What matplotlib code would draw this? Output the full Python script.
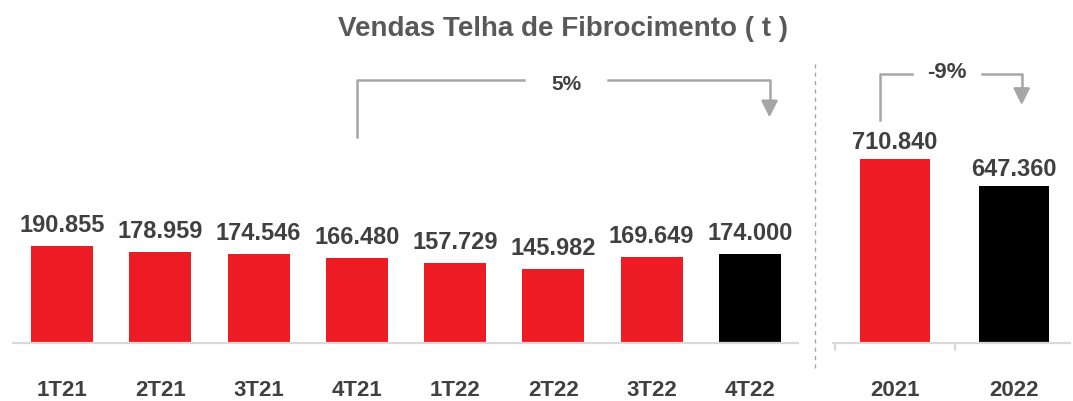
import matplotlib
matplotlib.use("Agg")
import matplotlib.pyplot as plt
from matplotlib.lines import Line2D
from matplotlib.ticker import FixedLocator
import matplotlib.transforms as mtransforms

plt.rcParams['font.family'] = ['Liberation Sans', 'DejaVu Sans']

# data
quarters = ["1T21", "2T21", "3T21", "4T21", "1T22", "2T22", "3T22", "4T22"]
quarter_sales = [190855, 178959, 174546, 166480, 157729, 145982, 169649, 174000]
years = ["2021", "2022"]
year_sales = [710840, 647360]
title = "Vendas Telha de Fibrocimento ( t )"
quarter_change = "5%"
year_change = "-9%"

RED = "#ED1C24"
BLACK = "#000000"
TXT = "#404040"
GRID = "#d9d9d9"
ARROW = "#a6a6a6"

quarter_colors = [RED] * (len(quarters) - 1) + [BLACK]
year_colors = [RED, BLACK]


def fmt(v):
    return f"{v:,}".replace(",", ".")


fig = plt.figure(figsize=(10.73, 4.01), dpi=100)

W, H = 1073.0, 401.0
base_px = 342.7
top_px = 55.7
ax_h = (base_px - top_px) / H
ax_b = (H - base_px) / H

ax1 = fig.add_axes([13 / W, ax_b, (798 - 13) / W, ax_h])
ax2 = fig.add_axes([833 / W, ax_b, (1070 - 833) / W, ax_h])

for ax in (ax1, ax2):
    for s in ("top", "left", "right"):
        ax.spines[s].set_visible(False)
    ax.spines["bottom"].set_color(GRID)
    ax.spines["bottom"].set_linewidth(1.6)
    ax.set_yticks([])
    ax.patch.set_alpha(0)

# quarterly bars
x1 = list(range(len(quarters)))
ax1.bar(x1, quarter_sales, width=0.63, color=quarter_colors)
ax1.set_xlim(-0.5, 7.49)
ax1.set_ylim(0, 565300)
ax1.set_xticks(x1)
ax1.set_xticklabels(quarters, fontsize=16, fontweight="bold", color=TXT)
ax1.tick_params(axis="x", length=0, pad=27)
for xi, v in zip(x1, quarter_sales):
    ax1.annotate(fmt(v), (xi, v), xytext=(0, 10), textcoords="offset points",
                 ha="center", va="baseline", fontsize=17, fontweight="bold", color=TXT)

# yearly bars
x2 = list(range(len(years)))
ax2.bar(x2, year_sales, width=0.59, color=year_colors)
ax2.set_xlim(-0.52, 1.467)
ax2.set_ylim(274000, 956360)
ax2.set_xticks(x2)
ax2.set_xticklabels(years, fontsize=16, fontweight="bold", color=TXT)
ax2.tick_params(axis="x", which="major", length=0, pad=27)
ax2.xaxis.set_minor_locator(FixedLocator([-0.5, 0.5]))
ax2.tick_params(axis="x", which="minor", length=6, width=1.6, color=GRID, direction="out")
for xi, v in zip(x2, year_sales):
    ax2.annotate(fmt(v), (xi, v), xytext=(0, 7), textcoords="offset points",
                 ha="center", va="baseline", fontsize=17, fontweight="bold", color=TXT)


# change brackets (x in data, y in axes fraction)
def bracket(ax, x_start, x_end, y_start, y_top, y_tip, x_text, y_text, label, gap, size):
    tr = mtransforms.blended_transform_factory(ax.transData, ax.transAxes)
    ax.add_line(Line2D([x_start, x_start, x_text - gap], [y_start, y_top, y_top],
                       transform=tr, color=ARROW, lw=1.8, clip_on=False))
    ax.add_line(Line2D([x_text + gap, x_end, x_end], [y_top, y_top, y_tip + 0.05],
                       transform=tr, color=ARROW, lw=1.8, clip_on=False))
    ax.annotate("", xy=(x_end, y_tip), xytext=(x_end, y_tip + 0.055),
                xycoords=tr, textcoords=tr,
                arrowprops=dict(arrowstyle="-|>,head_length=0.5,head_width=0.25",
                                mutation_scale=20, color=ARROW, lw=1.8,
                                shrinkA=0, shrinkB=0))
    ax.text(x_text, y_text, label, transform=tr, ha="center", va="center",
            fontsize=size, fontweight="bold", color=TXT)


bracket(ax1, 3, 7.2, 0.718, 0.915, 0.785, 5.13, 0.90, quarter_change, 0.43, 15)
bracket(ax2, -0.126, 1.062, 0.776, 0.936, 0.828, 0.436, 0.943, year_change, 0.29, 16)

# separator between quarterly and yearly panels
fig.add_artist(Line2D([814.7 / W, 814.7 / W], [(H - 368.3) / H, (H - 63) / H],
                      transform=fig.transFigure, color="#a6a6a6", lw=1,
                      linestyle=(0, (3, 3))))

fig.text(563 / W, (H - 36) / H, title, ha="center", va="baseline",
         fontsize=20, fontweight="bold", color="#595959")

fig.savefig("out.png", dpi=100)
